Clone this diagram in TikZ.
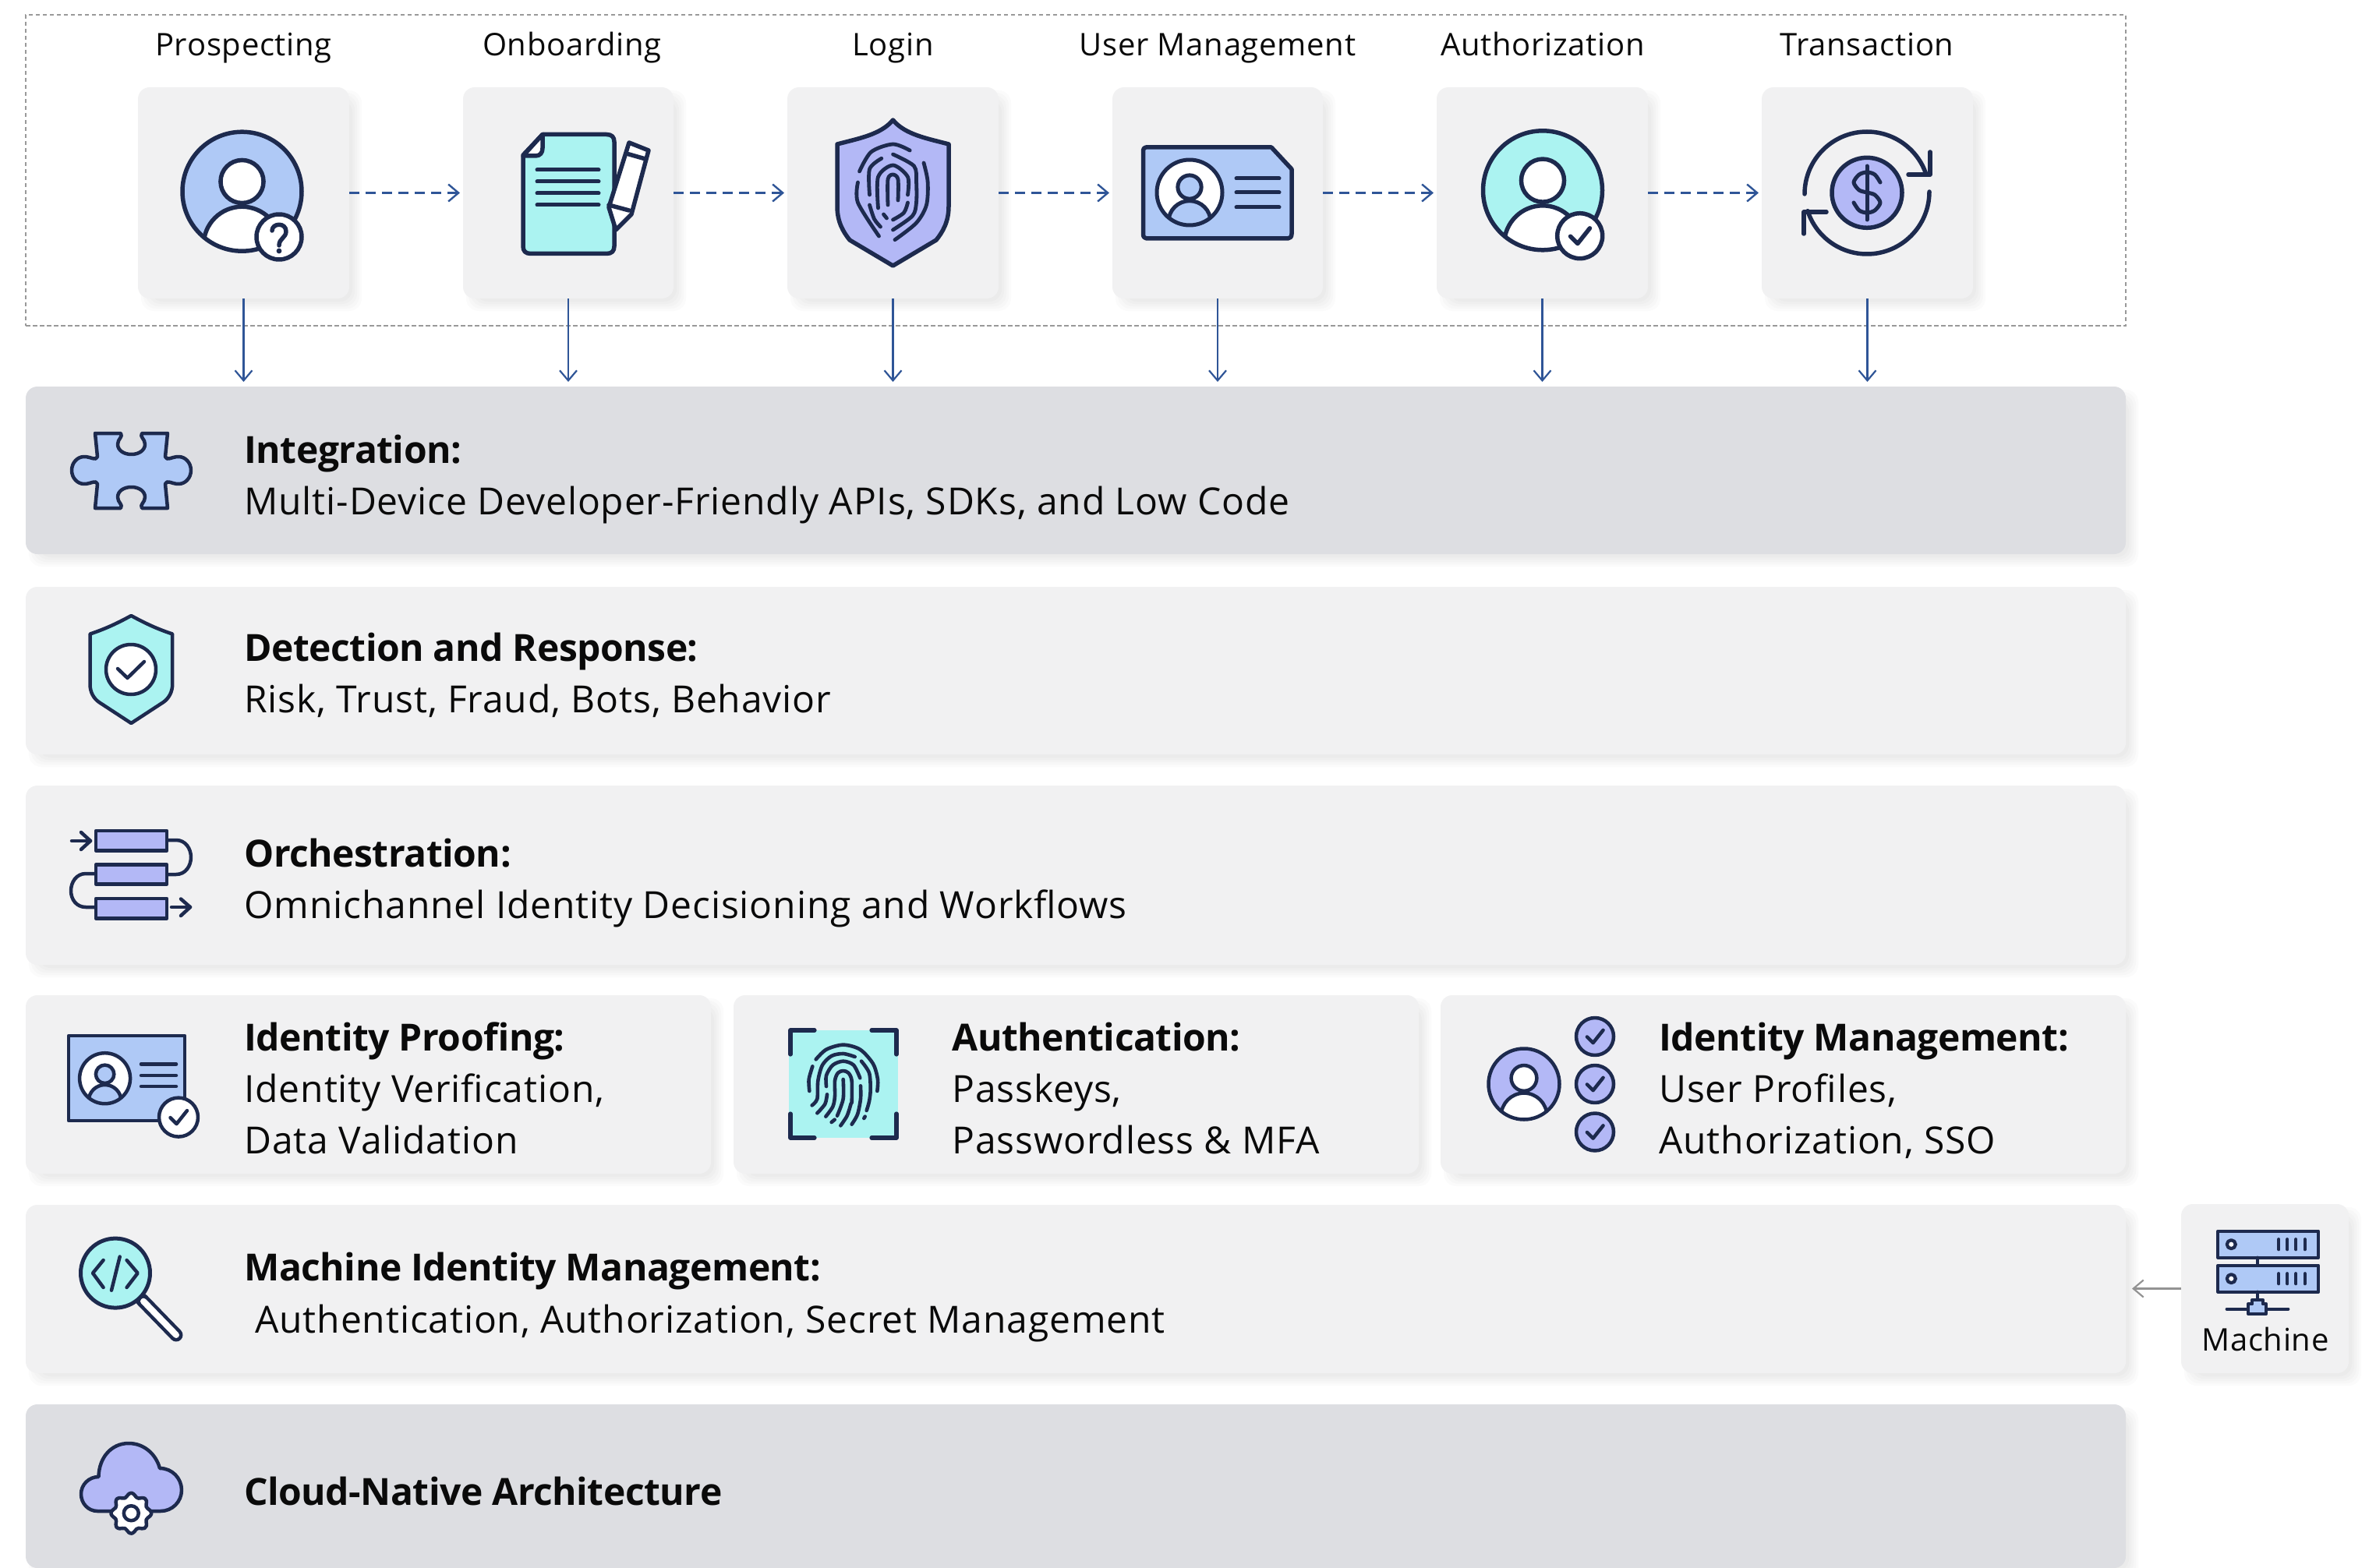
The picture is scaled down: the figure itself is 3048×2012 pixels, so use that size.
\documentclass[tikz,border=0pt]{standalone}
\usepackage{fontspec}
\setmainfont[LetterSpace=1.8,BoldFeatures={LetterSpace=-1}]{Open Sans}
\usetikzlibrary{arrows.meta}
\definecolor{navy}{HTML}{1D2A4E}
\definecolor{skyfill}{HTML}{AFC9F6}
\definecolor{aquafill}{HTML}{ABF3F1}
\definecolor{lavfill}{HTML}{B3B8F6}
\definecolor{cardlight}{HTML}{F1F1F2}
\definecolor{carddark}{HTML}{DDDEE2}
\definecolor{flowblue}{HTML}{2F5597}
\definecolor{inkblack}{HTML}{0A0A0A}
\tikzset{
  cardbox/.style={rectangle,rounded corners=7.5pt,inner sep=0pt,outer sep=0pt,draw=none},
  cardglow/.style={fill=black,opacity=0.014,rounded corners=8pt},
  ico/.style={draw=navy,line join=round,line cap=round},
  flowdash/.style={draw=flowblue,line width=1.4pt,dash pattern=on 6.5pt off 4pt,-{Straight Barb[length=6.5pt,width=11pt,line width=1.2pt]},shorten >=2pt},
  flowdown/.style={draw=flowblue,line width=1.1pt,-{Straight Barb[length=6.5pt,width=11pt,line width=1.1pt]},shorten >=3pt},
  flowgrey/.style={draw=gray!85,line width=1.1pt,-{Straight Barb[length=6.5pt,width=11pt,line width=1.1pt]},shorten >=4pt},
  steplabel/.style={anchor=base,inner sep=0pt,text=inkblack,font=\fontsize{20}{24}\selectfont},
  rowlabel/.style={anchor=base west,inner sep=0pt,align=left,text=inkblack,font=\fontsize{24}{33.2}\selectfont},
}
\newcommand\Card[6]{%
  \foreach \e in {-6,-3,0,3,6}{\fill[cardglow] ({#2+10-\e},{#3+10-\e}) rectangle ({#4+10+\e},{#5+10+\e});}
  \node[cardbox,fill=#6,minimum width={(#4-#2)*0.5pt},minimum height={(#5-#3)*0.5pt}] (#1) at ({(#2+#4)/2},{(#3+#5)/2}) {};
}
% cx cy r circlefill personfill linewidth(px)
\newcommand\PersonIcon[6]{%
  \fill[#4] (#1,#2) circle[radius=#3];
  \begin{scope}
    \clip (#1,#2) circle[radius=#3];
    \draw[ico,fill=#5,line width={#6*0.5pt}] (#1,{#2+0.9*#3}) circle[radius={0.645*#3}];
  \end{scope}
  \draw[ico,line width={#6*0.5pt}] (#1,#2) circle[radius=#3];
  \draw[ico,fill=#5,line width={#6*0.5pt}] (#1,{#2-0.166*#3}) circle[radius={0.36*#3}];
}
% cx cy r fill lw
\newcommand\CheckDisc[5]{%
  \draw[ico,fill=#4,line width={#5*0.5pt}] (#1,#2) circle[radius=#3];
  \draw[ico,line width={#5*0.5pt}] ({#1-0.42*#3},{#2+0.02*#3}) -- ({#1-0.1*#3},{#2+0.34*#3}) -- ({#1+0.44*#3},{#2-0.34*#3});
}
\begin{document}
\begin{tikzpicture}[x=0.5pt,y=-0.5pt]
\useasboundingbox (0,0) rectangle (3048,2012);
\fill[white] (0,0) rectangle (3048,2012);

% frame
\node[rectangle,draw=gray!80,line width=1pt,dash pattern=on 2.75pt off 1.75pt,inner sep=0pt,minimum width=1347pt,minimum height=199.5pt] (frame) at (1380,218.5) {};

% step cards
\Card{cProspect}{177}{112}{448}{383}{cardlight}
\Card{cOnboard}{594}{112}{864}{383}{cardlight}
\Card{cLogin}{1010}{112}{1281}{383}{cardlight}
\Card{cUser}{1427}{112}{1697}{383}{cardlight}
\Card{cAuthz}{1843}{112}{2114}{383}{cardlight}
\Card{cTrans}{2260}{112}{2531}{383}{cardlight}

% rows
\Card{rInteg}{33}{496}{2727}{711}{carddark}
\Card{rDetect}{33}{753}{2727}{968}{cardlight}
\Card{rOrch}{33}{1008}{2727}{1238}{cardlight}
\Card{rProof}{33}{1277}{912}{1506}{cardlight}
\Card{rAuthn}{941}{1277}{1820}{1506}{cardlight}
\Card{rIdm}{1848}{1277}{2727}{1506}{cardlight}
\Card{rMim}{33}{1546}{2727}{1762}{cardlight}
\Card{rCloud}{33}{1802}{2727}{2012}{carddark}
\Card{cMachine}{2798}{1545}{3013}{1762}{cardlight}

% connectors
\draw[flowdash] (cProspect.east) -- (cOnboard.west);
\draw[flowdash] (cOnboard.east) -- (cLogin.west);
\draw[flowdash] (cLogin.east) -- (cUser.west);
\draw[flowdash] (cUser.east) -- (cAuthz.west);
\draw[flowdash] (cAuthz.east) -- (cTrans.west);
\foreach \c in {cProspect,cOnboard,cLogin,cUser,cAuthz,cTrans}{
  \draw[flowdown] (\c.south) -- (\c.south |- rInteg.north);
}
\draw[flowgrey] (cMachine.west) -- (rMim.east |- cMachine.west);

% labels
\node[steplabel] (lProspect) at (312.5,71.7) {Prospecting};
\node[steplabel] (lOnboard) at (734,71.7) {Onboarding};
\node[steplabel] (lLogin) at (1145.5,71.7) {Login};
\node[steplabel] (lUser) at (1562,71.7) {User Management};
\node[steplabel] (lAuthz) at (1979,71.7) {Authorization};
\node[steplabel] (lTrans) at (2395,71.7) {Transaction};
\node[steplabel] (lMachine) at (2906,1733.5) {Machine};

\node[rowlabel] (tInteg) at (313,660.9) {\textbf{Integration:}\\Multi-Device Developer-Friendly APIs, SDKs, and Low Code};
\node[rowlabel] (tDetect) at (313,914.4) {\textbf{Detection and Response:}\\Risk, Trust, Fraud, Bots, Behavior};
\node[rowlabel] (tOrch) at (313,1178.4) {\textbf{Orchestration:}\\Omnichannel Identity Decisioning and Workflows};
\node[rowlabel] (tProof) at (313,1480.8) {\textbf{Identity Proofing:}\\Identity Verification,\\Data Validation};
\node[rowlabel] (tAuthn) at (1221,1480.8) {\textbf{Authentication:}\\Passkeys,\\Passwordless \& MFA};
\node[rowlabel] (tIdm) at (2128,1480.8) {\textbf{Identity Management:}\\User Profiles,\\Authorization, SSO};
\node[rowlabel] (tMim) at (313,1710.1) {\textbf{Machine Identity Management:}\\\hspace*{7pt}Authentication, Authorization, Secret Management};
\node[rowlabel] (tCloud) at (313,1931.5) {\textbf{Cloud-Native Architecture}};

% --- icon: prospecting
\PersonIcon{310.5}{245.7}{76.5}{skyfill}{white}{5.5}
\draw[ico,fill=white,line width=2.75pt] (358,304) circle[radius=29];
\draw[ico,line width=2.75pt] (349,296) .. controls (349,286) and (367,285) .. (367,297) .. controls (367,305) and (358,306) .. (358,315);
\fill[navy] (358,322) circle[radius=3.4];

% --- icon: document + pencil
\draw[ico,fill=aquafill,line width=2.75pt] (696,172.5) -- (778,172.5) .. controls (785,172.5) and (788,176) .. (788,182) -- (788,316) .. controls (788,322) and (785,325.5) .. (778,325.5) -- (681,325.5) .. controls (674,325.5) and (671,322) .. (671,316) -- (671,199) -- cycle;
\draw[ico,fill=white,line width=2.75pt] (696,172.5) -- (696,190) .. controls (696,196) and (693,200) .. (687,200) -- (671,200) -- cycle;
\foreach \ly in {218,233,248,263}{\draw[ico,line width=2.5pt] (689,\ly) -- (768,\ly);}
\draw[ico,fill=white,line width=2.75pt] (807,183) -- (832,193) -- (810,275) -- (790,295) -- (781,266) -- cycle;
\draw[ico,line width=2.75pt] (803.5,197) -- (828,204);
\draw[ico,line width=2.75pt] (781,263) -- (807,270);

% --- icon: login shield
\draw[ico,fill=lavfill,line width=2.75pt] (1145.5,154) .. controls (1130,173) and (1100,178) .. (1074,185) -- (1074,265) .. controls (1074,285) and (1082,298) .. (1090,308) -- (1145.5,341) -- (1201,308) .. controls (1209,298) and (1217,285) .. (1217,265) -- (1217,185) .. controls (1191,178) and (1161,173) .. (1145.5,154) -- cycle;
\begin{scope}[shift={(1145.5,245)}]
\tikzset{fpL/.style={ico,line width=2.4pt}}
\draw[fpL] plot[smooth] coordinates {(-43,-25) (-28,-50) (0,-60) (21.7,-52)};
\draw[fpL] plot[smooth] coordinates {(39.5,-36) (44.6,-12) (43,18) (30,41) (2.5,62.7)};
\draw[fpL] plot[smooth] coordinates {(-45,-11) (-45,15) (-18,58)};
\draw[fpL] plot[smooth] coordinates {(-30,5) (-30,-28) (-14.7,-41.7)};
\draw[fpL] plot[smooth] coordinates {(0,-47) (27,-32) (30,-12) (30,15) (25,32) (0,50)};
\draw[fpL] plot[smooth] coordinates {(-30,18) (-24,36) (-16,46)};
\draw[fpL] plot[smooth] coordinates {(-19,22) (-19,-18) (0,-33) (19,-18) (19,5)};
\draw[fpL] plot[smooth] coordinates {(-12,30) (-8,35)};
\draw[fpL] plot[smooth] coordinates {(19,15) (14,28) (0,37)};
\draw[fpL] plot[smooth] coordinates {(-6.5,18) (-6.5,-15) (0,-21) (6.5,-15) (6.5,12)};
\end{scope}

% --- icon: user management card
\draw[ico,fill=skyfill,line width=2.75pt] (1470,189) -- (1631,189) -- (1657,217) -- (1657,300) .. controls (1657,304) and (1655,306) .. (1652,306) -- (1471,306) .. controls (1468,306) and (1466.5,304) .. (1466.5,300) -- (1466.5,193) .. controls (1466.5,191) and (1468,189) .. (1470,189) -- cycle;
\PersonIcon{1526}{247}{42}{white}{skyfill}{5}
\foreach \ly in {229,247,266}{\draw[ico,line width=2.5pt] (1586,\ly) -- (1641,\ly);}

% --- icon: authorization
\PersonIcon{1979}{244.3}{76.5}{aquafill}{white}{5.5}
\CheckDisc{2026.7}{302.7}{29}{white}{5.5}

% --- icon: transaction
\draw[ico,fill=lavfill,line width=2.75pt] (2395,247.3) circle[radius=45];
\draw[ico,line width=2.5pt] (2395,213) -- (2395,282);
\draw[ico,line width=2.5pt] plot[smooth] coordinates {(2412,234) (2405,224) (2395,221) (2385,224) (2378,234) (2385,244) (2395,247) (2405,250) (2412,260) (2405,270) (2395,273) (2385,270) (2378,260)};
\draw[ico,line width=2.75pt] (2315,249) arc[start angle=180,end angle=342,radius=80];
\draw[ico,line width=2.75pt] (2476,195) -- (2476,224) -- (2448,224);
\draw[ico,line width=2.75pt] (2475,246) arc[start angle=0,end angle=162,radius=80];
\draw[ico,line width=2.75pt] (2314,300) -- (2314,272) -- (2343,272);

% --- icon: puzzle
\draw[ico,fill=skyfill,line width=2.25pt] (122,556) -- (155,556) .. controls (158,561) and (151,563) .. (151,570) .. controls (151,578) and (159,583) .. (168.5,583) .. controls (178,583) and (186,578) .. (186,570) .. controls (186,563) and (179,561) .. (182,556) -- (215,556) -- (212,586) .. controls (214,592) and (220,586) .. (229,586) .. controls (238,586) and (245,594) .. (245,603.5) .. controls (245,613) and (238,621) .. (229,621) .. controls (220,621) and (214,615) .. (212,621) -- (215,652) -- (182,652) .. controls (179,647) and (186,645) .. (186,638) .. controls (186,630) and (178,625) .. (168.5,625) .. controls (159,625) and (151,630) .. (151,638) .. controls (151,645) and (158,647) .. (155,652) -- (122,652) -- (125,621) .. controls (123,615) and (117,621) .. (108,621) .. controls (99,621) and (92,613) .. (92,603.5) .. controls (92,594) and (99,586) .. (108,586) .. controls (117,586) and (123,592) .. (125,586) -- cycle;

% --- icon: detection shield
\draw[ico,fill=aquafill,line width=2.25pt] (168.3,790) .. controls (150,800) and (135,807) .. (115.5,813.5) -- (115.5,878) .. controls (115.5,888) and (120,896) .. (127,901) -- (168.3,928) -- (209.6,901) .. controls (216.6,896) and (221.2,888) .. (221.2,878) -- (221.2,813.5) .. controls (201.6,807) and (186.6,800) .. (168.3,790) -- cycle;
\draw[ico,fill=white,line width=2.25pt] (168,859) circle[radius=32];
\draw[ico,line width=2.25pt] (151,858) -- (163.5,870) -- (185,849);

% --- icon: orchestration
\foreach \ya/\yb in {1066/1091.5,1109.5/1134.5,1153/1178.5}{
  \draw[ico,fill=lavfill,line width=2.25pt] (123,\ya) rectangle (214,\yb);
}
\draw[ico,line width=2.25pt] (92,1079) -- (116,1079);
\draw[ico,line width=2.25pt] (104,1068) -- (116,1079) -- (104,1090);
\draw[ico,line width=2.25pt] (215,1078) -- (226,1078) .. controls (238,1078) and (245,1089) .. (245,1100) .. controls (245,1111) and (238,1122) .. (226,1122) -- (215,1122);
\draw[ico,line width=2.25pt] (122,1121) -- (110,1121) .. controls (98,1121) and (91,1132) .. (91,1143) .. controls (91,1154) and (98,1164) .. (110,1164) -- (122,1164);
\draw[ico,line width=2.25pt] (220,1164) -- (244,1164);
\draw[ico,line width=2.25pt] (232,1153.5) -- (244,1164) -- (232,1175);

% --- icon: identity proofing
\draw[ico,fill=skyfill,line width=2.25pt] (88,1329) rectangle (237,1438);
\PersonIcon{134.6}{1383.7}{32.5}{white}{skyfill}{4.5}
\foreach \ly in {1365.5,1380,1394}{\draw[ico,line width=2.25pt] (181,\ly) -- (226,\ly);}
\CheckDisc{229}{1433.6}{25}{white}{4.5}

% --- icon: authentication
\fill[aquafill] (1012,1322) rectangle (1152,1460);
\draw[ico,line width=2.6pt] (1014,1353) -- (1014,1322) -- (1045,1322);
\draw[ico,line width=2.6pt] (1118,1322) -- (1150,1322) -- (1150,1353);
\draw[ico,line width=2.6pt] (1014,1429) -- (1014,1460) -- (1045,1460);
\draw[ico,line width=2.6pt] (1118,1460) -- (1150,1460) -- (1150,1429);
\begin{scope}[shift={(1000,1310)},x=0.16667pt,y=-0.16667pt]
\tikzset{fpS/.style={ico,line width=2.3pt}}
\draw[fpS] plot[smooth] coordinates {(140,148) (180,110) (245,92) (310,110) (360,165) (378,225) (376,270)};
\draw[fpS] plot[smooth] coordinates {(115,270) (113,225) (127,175)};
\draw[fpS] plot[smooth] coordinates {(125,325) (145,300) (148,230) (165,170) (200,135) (245,126) (290,138)};
\draw[fpS] plot[smooth] coordinates {(145,355) (175,320) (183,283)};
\draw[fpS] plot[smooth] coordinates {(180,252) (180,210) (205,170) (245,155) (285,170) (310,220)};
\draw[fpS] plot[smooth] coordinates {(315,155) (345,200) (350,265) (345,310) (335,345)};
\draw[fpS] plot[smooth] coordinates {(178,368) (205,330) (213,290) (213,230) (225,200) (245,192) (265,200) (278,230) (278,315)};
\draw[fpS] plot[smooth] coordinates {(245,225) (245,300) (222,365)};
\draw[fpS] (200,390) -- (212,380);
\draw[fpS] plot[smooth] coordinates {(235,403) (260,365) (275,318)};
\draw[fpS] plot[smooth] coordinates {(278,398) (300,360) (312,300) (312,250)};
\draw[fpS] (325,375) -- (329,368);
\end{scope}

% --- icon: identity management
\PersonIcon{1955}{1391}{45.5}{lavfill}{white}{4.5}
\CheckDisc{2046}{1330}{24}{lavfill}{4.5}
\CheckDisc{2046}{1391}{24}{lavfill}{4.5}
\CheckDisc{2046}{1452.5}{24}{lavfill}{4.5}

% --- icon: magnifier
\draw[ico,line width=8.5pt] (182,1667.7) -- (226,1713);
\draw[white,line cap=round,line width=4pt] (184,1669.7) -- (226,1713);
\draw[ico,fill=aquafill,line width=2.5pt] (148,1633.6) circle[radius=44.5];
\draw[ico,line width=2.25pt] (132.6,1617) -- (119,1633.6) -- (132.6,1652);
\draw[ico,line width=2.25pt] (162.6,1617) -- (176.7,1633.6) -- (162.6,1652);
\draw[ico,line width=2.25pt] (153.7,1612.5) -- (143,1655.7);

% --- icon: cloud
\draw[ico,fill=lavfill,line width=2.25pt] (140,1939) -- (125,1939) .. controls (113,1939) and (104,1929) .. (104,1917) .. controls (104,1905) and (114,1895) .. (126.5,1895) .. controls (127,1870) and (143,1852) .. (165,1852) .. controls (185,1852) and (200,1866) .. (205,1884) .. controls (221,1884) and (233,1897) .. (233,1912) .. controls (233,1927) and (221,1939) .. (206,1939) -- cycle;
\draw[ico,fill=white,line width=2.25pt] plot[smooth cycle,domain=0:352,samples=45] ({168.3+(23.5+2.5*cos(8*\x))*cos(\x)},{1941.7+(23.5+2.5*cos(8*\x))*sin(\x)});
\draw[ico,line width=2.25pt] (168.3,1941.7) circle[radius=9.5];

% --- icon: server
\foreach \ya/\yb in {1579.7/1613.7,1623.7/1657.7}{
  \draw[ico,fill=skyfill,line width=2.1pt] (2845.3,\ya) rectangle (2974,\yb);
  \draw[ico,fill=white,line width=2.1pt] (2862.3,{\ya+17}) circle[radius=5.5];
  \foreach \tx in {2923.3,2934.3,2945.3,2956.7}{
    \draw[ico,line width=2.1pt] (\tx,{\ya+10.5}) -- (\tx,{\ya+23.5});
  }
}
\draw[ico,line width=2.1pt] (2896,1613.7) -- (2896,1623.7);
\draw[ico,line width=2.1pt] (2896,1657.7) -- (2896,1668);
\draw[ico,line width=2.1pt] (2856.7,1679.7) -- (2935.3,1679.7);
\draw[ico,fill=skyfill,line width=2.1pt] (2889.3,1667.7) -- (2902.7,1667.7) -- (2902.7,1673.3) -- (2907.3,1673.3) -- (2907.3,1685.7) -- (2884,1685.7) -- (2884,1673.3) -- (2889.3,1673.3) -- cycle;
\end{tikzpicture}
\end{document}
